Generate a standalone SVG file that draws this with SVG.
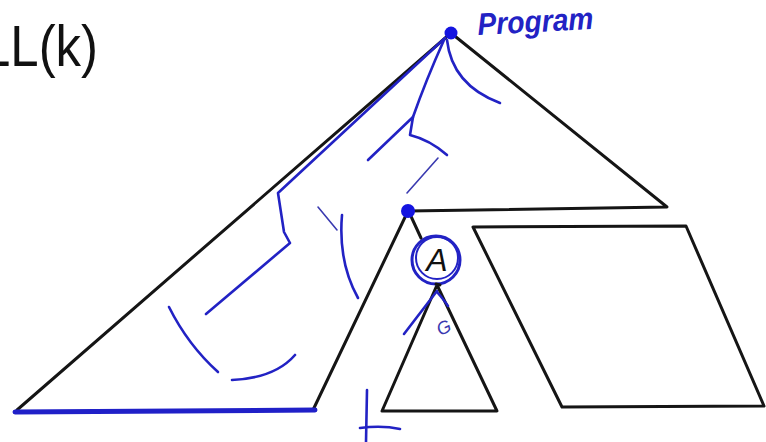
<svg xmlns="http://www.w3.org/2000/svg" width="766" height="442" viewBox="0 0 766 442">
<style>
.ink{fill:none;stroke:#151515;stroke-width:3;stroke-linecap:round;stroke-linejoin:round}
.pen{fill:none;stroke:#2222c4;stroke-width:2.6;stroke-linecap:round;stroke-linejoin:round}
.thin{fill:none;stroke:#3a3ab0;stroke-width:1.6;stroke-linecap:round;stroke-linejoin:round}
.dot{fill:#1414e0}
.title{font-family:"Liberation Sans",Arial,sans-serif;font-size:58px;fill:#111}
.hand{font-family:"Liberation Sans",Arial,sans-serif;font-style:italic;font-weight:bold;fill:#2222c4}
</style>
<rect width="766" height="442" fill="#fff"/>
<g id="title"><text class="title" x="-18" y="66" textLength="116" lengthAdjust="spacingAndGlyphs">LL(k)</text></g>
<g id="program-label"><text class="hand" x="478" y="35" font-size="31" textLength="116" lengthAdjust="spacingAndGlyphs" transform="rotate(-3 478 35)">Program</text></g>
<g id="main-tree">
<polyline class="ink" points="313,410 408,211 667,207 451,33 17,410"/>
</g>
<g id="subtree">
<polyline class="ink" points="382,411 437,285 497,411 382,411"/>
</g>
<g id="parallelogram">
<polygon class="ink" stroke-width="2.4" points="473,227 686,226 764,406 562,407"/>
</g>
<g id="node-A">
<circle cx="436" cy="260" r="24" fill="none" stroke="#2222c4" stroke-width="3"/>
<circle cx="437" cy="258" r="21" fill="none" stroke="#2222c4" stroke-width="2"/>
<text x="437" y="271" text-anchor="middle" font-family="'Liberation Sans',Arial,sans-serif" font-style="italic" font-size="32" fill="#111">A</text>
</g>
<g id="connectors">
<line class="ink" x1="409" y1="212" x2="421" y2="238"/>
<line class="ink" x1="436" y1="284" x2="440" y2="285"/>
</g>
<g id="dots">
<circle class="dot" cx="451" cy="33" r="6.5"/>
<circle class="dot" cx="408" cy="211" r="7"/>
</g>
<g id="scribbles">
<line x1="15" y1="412" x2="315" y2="410" stroke="#2020c8" stroke-width="5" stroke-linecap="round"/>
<path class="pen" d="M445,38 L278,193 L284,232 L290,243 L206,314"/>
<path class="pen" d="M169,307 Q188,345 218,372"/>
<path class="pen" d="M232,380 Q275,378 295,355"/>
<path class="pen" d="M342,215 Q338,262 358,298"/>
<path class="thin" d="M318,207 L337,230"/>
<path class="pen" d="M444,40 Q426,80 413,117 L368,160"/>
<path class="pen" d="M413,117 L410,135 Q430,140 447,155"/>
<path class="thin" d="M438,158 L407,193"/>
<path class="pen" d="M447,40 Q452,85 500,103"/>
<path class="pen" d="M404,334 L437,291"/>
<path class="pen" d="M437,292 Q444,300 448,306"/>
<text x="440" y="336" font-family="'Liberation Sans',Arial,sans-serif" font-style="italic" font-size="18" fill="#3a3ab0" transform="rotate(-25 440 336)">G</text>
<path class="pen" d="M367,390 L366,442 M360,428 Q382,425 400,429"/>
</g>
</svg>
